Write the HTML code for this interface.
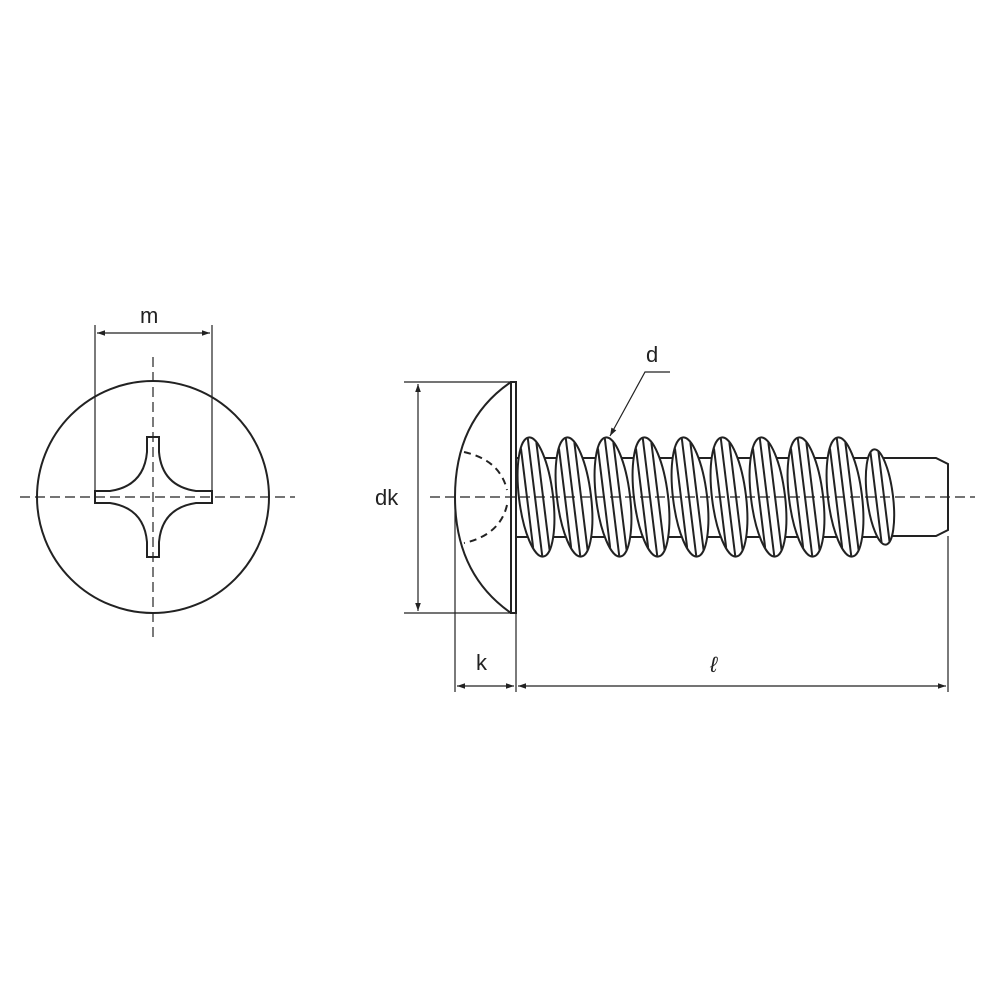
<!DOCTYPE html>
<html><head><style>body{margin:0;background:#fff}svg{display:block}</style></head><body>
<svg width="1000" height="1000" viewBox="0 0 1000 1000" xmlns="http://www.w3.org/2000/svg" font-family="Liberation Sans, sans-serif">
<defs>
<marker id="a" viewBox="0 0 10 10" refX="10" refY="5" markerWidth="10" markerHeight="8" orient="auto-start-reverse" markerUnits="userSpaceOnUse"><path d="M0,1.5 L10,5 L0,8.5 Z" fill="#222"/></marker>
<g id="c"><ellipse rx="17" ry="60"/><line x1="-9" y1="-50" x2="-9" y2="50"/><line x1="-1" y1="-59" x2="-1" y2="59"/><line x1="7" y1="-54" x2="7" y2="54"/></g>
</defs>
<g stroke="#222" fill="none" stroke-width="2">
<circle cx="153" cy="497" r="116"/>
<path d="M147,437 L159,437 L159,452 Q162,486 196,491 L212,491 L212,503 L196,503 Q162,508 159,542 L159,557 L147,557 L147,542 Q144,508 110,503 L95,503 L95,491 L110,491 Q144,486 147,452 Z" fill="#fff"/>
<g stroke-width="1.2"><line x1="95" y1="325" x2="95" y2="491"/><line x1="212" y1="325" x2="212" y2="491"/>
<line x1="97" y1="333" x2="210" y2="333" marker-start="url(#a)" marker-end="url(#a)"/>
<line x1="20" y1="497" x2="295" y2="497" stroke-dasharray="10,5"/>
<line x1="153" y1="357" x2="153" y2="642" stroke-dasharray="10,5"/></g>
<path d="M511,382 Q455,420 455,497 Q455,574 511,613"/>
<rect x="511" y="382" width="5" height="231" fill="#fff"/>
<path d="M464,452 Q500,460 507,490 M507,505 Q500,535 464,543" stroke-dasharray="7,5"/>
<line x1="516" y1="458" x2="890" y2="458"/><line x1="516" y1="537" x2="890" y2="537"/>
<path d="M880,458 L936,458 L948,464 L948,530 L936,536 L880,536"/>
<g fill="#fff">
<use href="#c" transform="translate(536,497) rotate(-7)"/>
<use href="#c" transform="translate(574,497) rotate(-7)"/>
<use href="#c" transform="translate(613,497) rotate(-7)"/>
<use href="#c" transform="translate(651,497) rotate(-7)"/>
<use href="#c" transform="translate(690,497) rotate(-7)"/>
<use href="#c" transform="translate(729,497) rotate(-7)"/>
<use href="#c" transform="translate(768,497) rotate(-7)"/>
<use href="#c" transform="translate(806,497) rotate(-7)"/>
<use href="#c" transform="translate(845,497) rotate(-7)"/>
<g transform="translate(880,497) rotate(-7)"><ellipse rx="13" ry="48"/><line x1="-4" y1="-46" x2="-4" y2="46"/><line x1="4" y1="-45" x2="4" y2="45"/></g>
</g>
<g stroke-width="1.2">
<line x1="404" y1="382" x2="511" y2="382"/><line x1="404" y1="613" x2="511" y2="613"/>
<line x1="418" y1="384" x2="418" y2="611" marker-start="url(#a)" marker-end="url(#a)"/>
<line x1="455" y1="500" x2="455" y2="692"/><line x1="516" y1="613" x2="516" y2="692"/><line x1="948" y1="536" x2="948" y2="692"/>
<line x1="457" y1="686" x2="514" y2="686" marker-start="url(#a)" marker-end="url(#a)"/>
<line x1="518" y1="686" x2="946" y2="686" marker-start="url(#a)" marker-end="url(#a)"/>
<line x1="430" y1="497" x2="975" y2="497" stroke-dasharray="10,5"/>
<path d="M670,372 L645,372 L610,436" marker-end="url(#a)"/>
</g>
</g>
<g fill="#222" font-size="22">
<text x="140" y="323">m</text>
<text x="375" y="505">dk</text>
<text x="476" y="670">k</text>
<text x="710" y="672" font-style="italic">ℓ</text>
<text x="646" y="362">d</text>
</g>
</svg>
</body></html>
